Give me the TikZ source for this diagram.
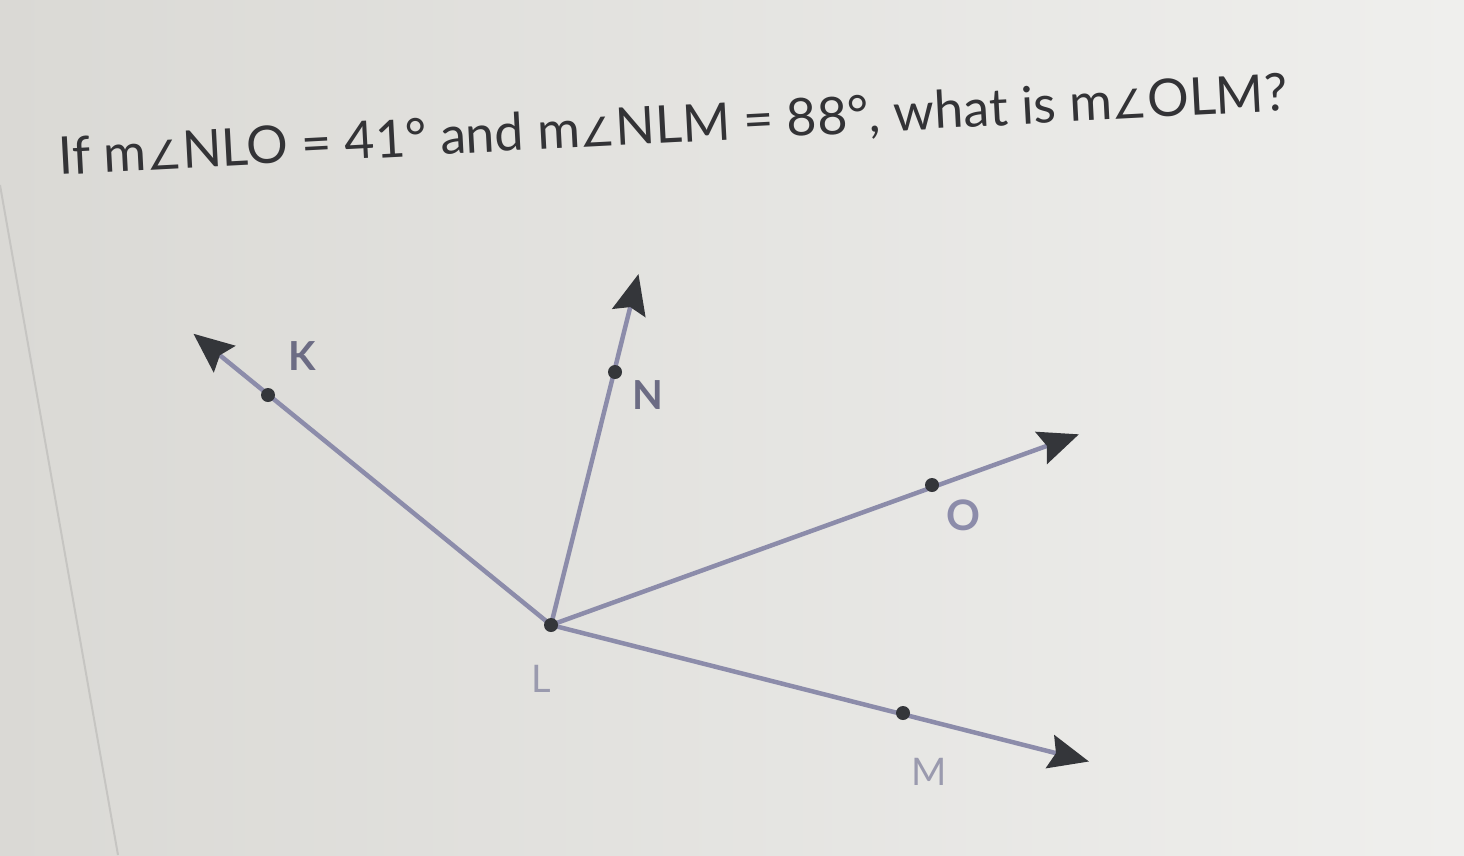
\documentclass[tikz,border=0pt]{standalone}
\usepackage{fontspec}
\setmainfont{Lato}
\newfontfamily\symfont{DejaVu Sans}
\usetikzlibrary{arrows.meta}
\definecolor{bgl}{HTML}{DAD9D5}
\definecolor{bgr}{HTML}{EFEFED}
\definecolor{ray}{HTML}{8C8CAA}
\definecolor{tipc}{HTML}{34363A}
\definecolor{txt}{HTML}{333336}
\definecolor{lab}{HTML}{6C6C84}
\definecolor{labl}{HTML}{9A9AAE}
\newcommand{\ang}{{\symfont\fontsize{40}{40}\selectfont ∠}}
\tikzset{
  raystyle/.style={draw=ray, line width=4.5pt, -{Stealth[length=40pt,width=34pt,inset=6pt,color=tipc]}, shorten >=-2pt},
  ptdot/.style={circle, fill=tipc, inner sep=0pt, minimum size=14pt},
  ptlab/.style={font=\fontsize{40}{40}\selectfont\bfseries, text=lab, inner sep=0pt},
}
\begin{document}
\begin{tikzpicture}[x=1pt,y=-1pt]
\useasboundingbox (0,0) rectangle (1464,855);
\shade[left color=bgl, right color=bgr] (0,0) rectangle (1464,855);
\draw[draw=black!9!bgl, line width=2pt] (0,185) -- (118,855);
% title
\node[text=txt, font=\fontsize{52}{52}\selectfont, rotate=3, anchor=center] (title) at (673,127)
  {If m\ang NLO = 41° and m\ang NLM = 88°, what is m\ang OLM?};
% points
\coordinate (L) at (551,625);
\coordinate (Kt) at (195,335);
\coordinate (Nt) at (638,276);
\coordinate (Ot) at (1077,435);
\coordinate (Mt) at (1087,761);
\draw[raystyle] (L) -- (Kt);
\draw[raystyle] (L) -- (Nt);
\draw[raystyle] (L) -- (Ot);
\draw[raystyle] (L) -- (Mt);
\node[ptdot] (K) at (268,395) {};
\node[ptdot] (N) at (615,372) {};
\node[ptdot] (O) at (932,485) {};
\node[ptdot] (M) at (903,713) {};
\node[ptdot] (Ld) at (L) {};
% labels
\node[ptlab] (lK) at (302,356) {K};
\node[ptlab] (lN) at (648,395) {N};
\node[ptlab, text=ray, font=\fontsize{42}{42}\selectfont\bfseries] (lO) at (963,515) {O};
\node[ptlab, text=labl, font=\fontsize{38}{38}\selectfont] (lL) at (541,679) {L};
\node[ptlab, text=labl, font=\fontsize{38}{38}\selectfont] (lM) at (929,772) {M};
\end{tikzpicture}
\end{document}
